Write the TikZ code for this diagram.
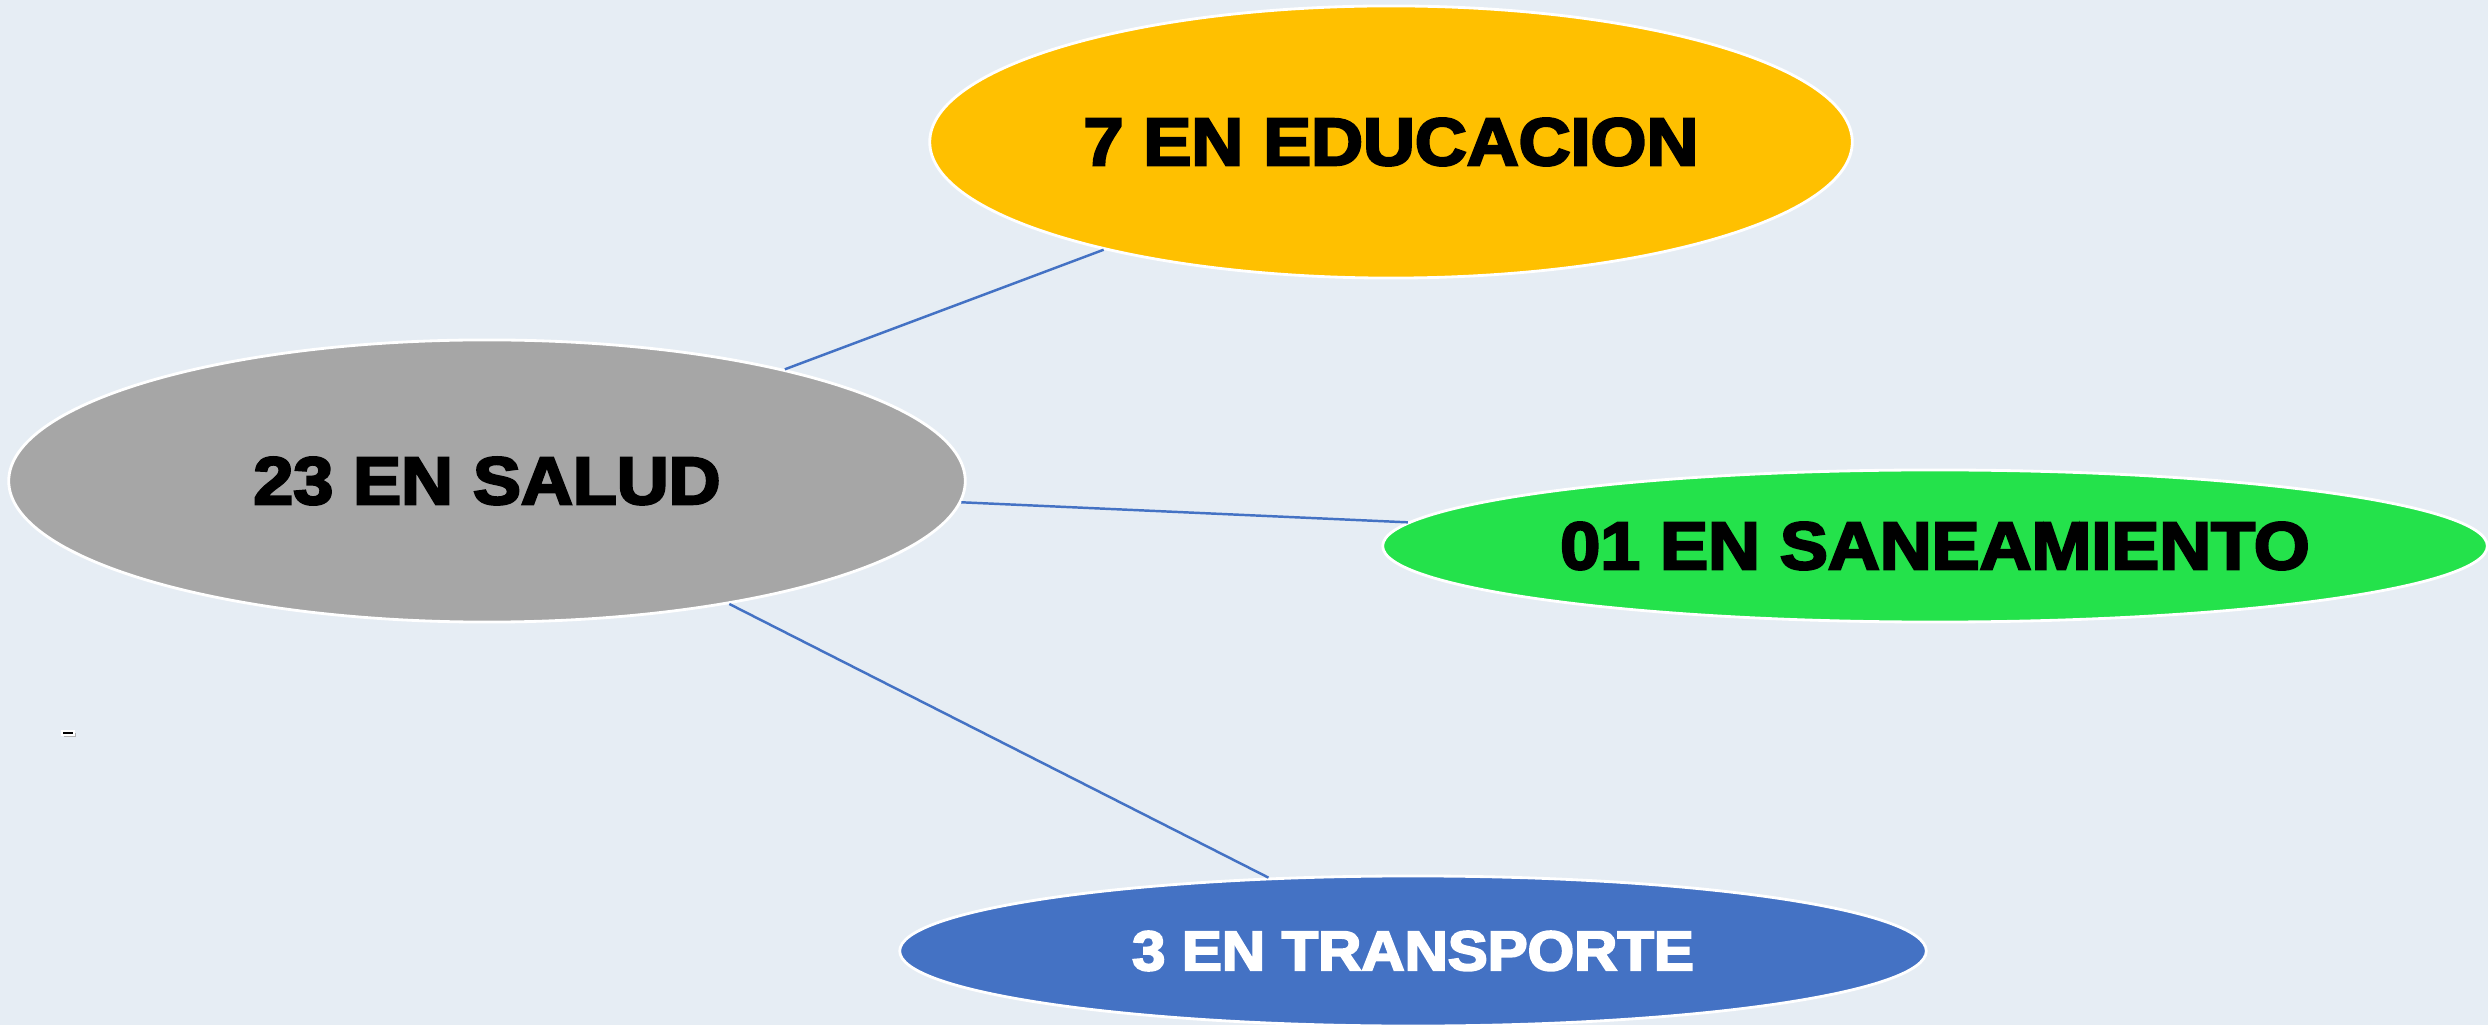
\documentclass[tikz,border=0pt]{standalone}
\usepackage{fontspec}
\usepackage{graphicx}
\usetikzlibrary{shapes.geometric}
\newfontfamily\heavyfont{Liberation Sans}[BoldFeatures={FakeBold=3.5}]
\definecolor{bgblue}{RGB}{230,237,244}
\definecolor{edugold}{RGB}{255,192,0}
\definecolor{saludgray}{RGB}{166,166,166}
\definecolor{sanegreen}{RGB}{36,226,75}
\definecolor{transblue}{RGB}{68,114,196}
\newcommand{\wider}[1]{\scalebox{1.07}[1]{#1}}

\begin{document}
\begin{tikzpicture}[
	x = 0.01cm, y = -0.01cm,
	every node/.style = {ellipse, draw = white, line width = 0.8pt, inner sep = 0pt},
	big/.style = {font = \heavyfont\bfseries\fontsize{19.1}{20}\selectfont},
	small/.style = {font = \heavyfont\bfseries\fontsize{15.9}{17}\selectfont},
	link/.style = {draw = transblue, line width = 0.7pt}
	]
	\useasboundingbox[fill = bgblue] (0,0) rectangle (2488,1025);
	% the four ellipses
	\node[big, fill = edugold, minimum width = 9.22cm, minimum height = 2.72cm] (edu) at (1391,142) {\wider{7 EN EDUCACION}};
	\node[big, fill = saludgray, minimum width = 9.56cm, minimum height = 2.82cm] (salud) at (487,481) {\wider{23 EN SALUD}};
	\node[big, fill = sanegreen, minimum width = 11.04cm, minimum height = 1.52cm] (sane) at (1935,546) {\wider{01 EN SANEAMIENTO}};
	\node[small, fill = transblue, text = white, minimum width = 10.26cm, minimum height = 1.5cm] (trans) at (1413,951) {\wider{3 EN TRANSPORTE}};
	% connectors
	\draw[link] (salud) -- (edu);
	\draw[link] (salud) -- (sane);
	\draw[link] (salud) -- (trans);
	% small mark on the left
	\node[rectangle, draw = none, fill = gray!60, minimum width = 0.12cm, minimum height = 0.04cm] (dashshadow) at (70,735) {};
	\node[rectangle, fill = black, line width = 0.4pt, minimum width = 0.12cm, minimum height = 0.04cm] (dash) at (68,733) {};
\end{tikzpicture}
\end{document}
